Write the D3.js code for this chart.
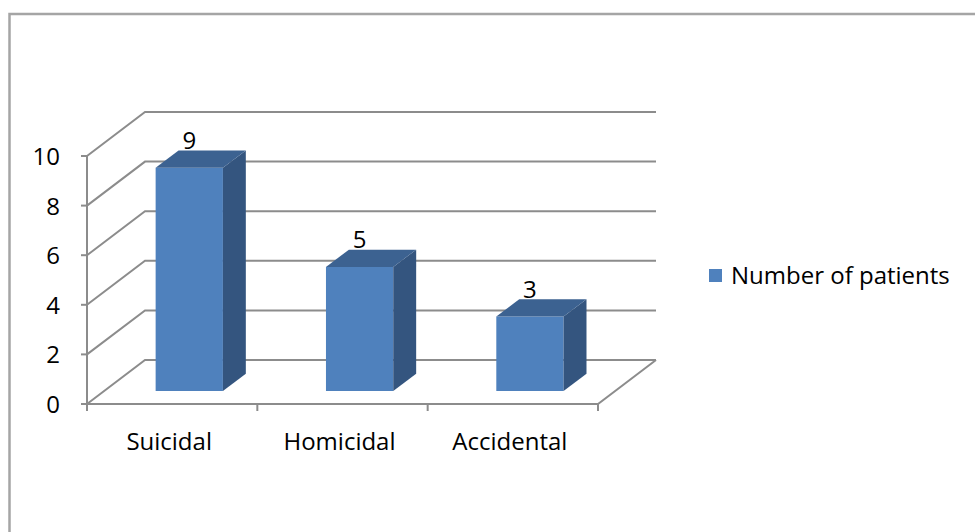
<!DOCTYPE html>
<html>
<head>
<meta charset="utf-8">
<script src="https://cdn.jsdelivr.net/npm/d3@7"></script>
<style>
  html, body { margin: 0; padding: 0; background: #fff; }
  svg { display: block; }
  text { font-family: "Open Sans", "DejaVu Sans", sans-serif; fill: #000; }
</style>
</head>
<body>
<svg id="chart" width="975" height="532"></svg>
<script>
// Chart data
const categories = ["Suicidal", "Homicidal", "Accidental"];
const values = [9, 5, 3];
const seriesName = "Number of patients";
const yTicks = [0, 2, 4, 6, 8, 10];

const fontSize = 24;
const svg = d3.select("#chart");

// Outer frame
svg.append("rect")
  .attr("x", 9.5).attr("y", 14)
  .attr("width", 1100).attr("height", 700)
  .attr("fill", "none").attr("stroke", "#a5a5a5").attr("stroke-width", 2.5);

// 3D projection: front plane scales plus a depth offset
const depth = { dx: 58, dy: -44 };
const x = d3.scaleBand().domain(categories).range([87, 598]);
const y = d3.scaleLinear().domain([0, 10]).range([404, 156]);

// point at value v, horizontal position px on the front plane, depth t in [0,1]
const proj = (px, v, t) => [px + depth.dx * t, y(v) + depth.dy * t];

const grid = svg.append("g")
  .attr("stroke", "#8c8c8c").attr("stroke-width", 2).attr("fill", "none");

const x0 = x.range()[0], x1 = x.range()[1];

// Side wall diagonals and back wall gridlines
yTicks.forEach(v => {
  const a = proj(x0, v, 0), b = proj(x0, v, 1), c = proj(x1, v, 1);
  grid.append("polyline").attr("points", [a, b, c].map(p => p.join(",")).join(" "));
});

// Floor front and right edges
{
  const a = proj(x0, 0, 0), b = proj(x1, 0, 0), c = proj(x1, 0, 1);
  grid.append("polyline").attr("points", [a, b, c].map(p => p.join(",")).join(" "));
}

// Vertical value axis
grid.append("line")
  .attr("x1", x0).attr("x2", x0)
  .attr("y1", y(10)).attr("y2", y(0));

// Value ticks
yTicks.forEach(v => {
  grid.append("line")
    .attr("x1", x0 - 6).attr("x2", x0)
    .attr("y1", y(v)).attr("y2", y(v));
});

// Category dividers
const dividers = categories.map(c => x(c)).concat([x1]);
dividers.forEach(px => {
  grid.append("line")
    .attr("x1", px).attr("x2", px)
    .attr("y1", y(0)).attr("y2", y(0) + 7);
});

// Value axis labels
svg.append("g").selectAll("text")
  .data(yTicks).join("text")
  .attr("x", 60).attr("y", d => y(d) + 9)
  .attr("text-anchor", "end")
  .attr("font-size", fontSize)
  .text(d => d);

// Category labels
svg.append("g").selectAll("text")
  .data(categories).join("text")
  .attr("x", d => x(d) + x.bandwidth() / 2 - 3)
  .attr("y", 450)
  .attr("text-anchor", "middle")
  .attr("font-size", fontSize)
  .text(d => d);

// 3D columns
const barFrac = 0.395;
const tFront = 0.295, tBack = 0.69;
const bars = svg.append("g");
categories.forEach((c, i) => {
  const v = values[i];
  const w = x.bandwidth() * barFrac;
  const cx = x(c) + x.bandwidth() / 2;
  const lx = cx - w / 2, rx = cx + w / 2;
  const f = (px, vv, t) => proj(px, vv, t).join(",");
  // front face
  bars.append("polygon")
    .attr("points", [f(lx, 0, tFront), f(rx, 0, tFront), f(rx, v, tFront), f(lx, v, tFront)].join(" "))
    .attr("fill", "#4f81bd");
  // right side face
  bars.append("polygon")
    .attr("points", [f(rx, 0, tFront), f(rx, 0, tBack), f(rx, v, tBack), f(rx, v, tFront)].join(" "))
    .attr("fill", "#34557f");
  // top face
  bars.append("polygon")
    .attr("points", [f(lx, v, tFront), f(rx, v, tFront), f(rx, v, tBack), f(lx, v, tBack)].join(" "))
    .attr("fill", "#3c6291");
  // value label
  const p = proj(cx, v, tFront);
  bars.append("text")
    .attr("x", p[0]).attr("y", p[1] - 19)
    .attr("text-anchor", "middle")
    .attr("font-size", fontSize)
    .text(v);
});

// Legend
const legend = svg.append("g").attr("transform", "translate(709,269)");
legend.append("rect").attr("width", 13).attr("height", 13).attr("fill", "#4f81bd");
legend.append("text")
  .attr("x", 22).attr("y", 15)
  .attr("font-size", fontSize)
  .text(seriesName);
</script>
</body>
</html>
